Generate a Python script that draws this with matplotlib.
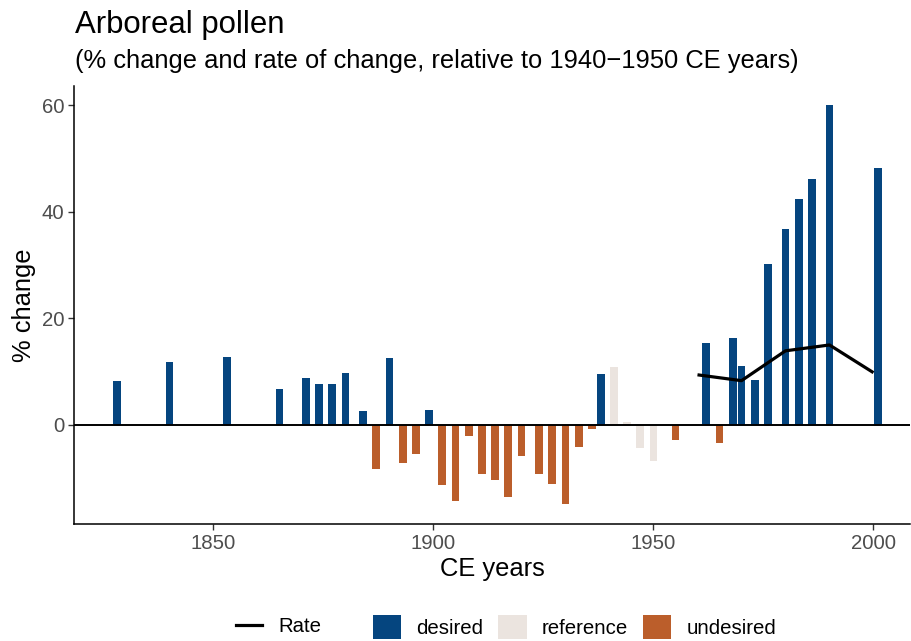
import matplotlib
matplotlib.use("Agg")
import matplotlib.pyplot as plt
from matplotlib.patches import Patch
from matplotlib.lines import Line2D

plt.rcParams['font.family'] = ['Liberation Sans', 'DejaVu Sans']

years = [1828, 1840, 1853, 1865, 1871, 1874, 1877, 1880, 1884, 1887, 1890, 1893,
         1896, 1899, 1902, 1905, 1908, 1911, 1914, 1917, 1920, 1924, 1927, 1930,
         1933, 1936, 1938, 1941, 1944, 1947, 1950, 1955, 1962, 1965, 1968, 1970,
         1973, 1976, 1980, 1983, 1986, 1990, 2001]
pct_change = [8.3, 11.75, 12.8, 6.75, 8.8, 7.7, 7.65, 9.7, 2.6, -8.25, 12.55, -7.2,
              -5.45, 2.8, -11.25, -14.2, -2.0, -9.3, -10.3, -13.5, -5.75, -9.25, -11.0, -14.9,
              -4.2, -0.8, 9.5, 10.9, 0.5, -4.4, -6.75, -2.8, 15.3, -3.4, 16.4, 11.1,
              8.5, 30.2, 36.75, 42.4, 46.1, 60.1, 48.3]
status = ['desired'] * 9 + ['undesired', 'desired', 'undesired', 'undesired', 'desired'] \
    + ['undesired'] * 12 + ['desired'] + ['reference'] * 4 + ['undesired', 'desired', 'undesired'] \
    + ['desired'] * 8

rate_years = [1960, 1970, 1980, 1990, 2000]
rate_values = [9.4, 8.3, 13.9, 15.0, 9.8]

colors = {'desired': '#05457f', 'reference': '#ebe4df', 'undesired': '#bb5e2b'}
categories = ['desired', 'reference', 'undesired']

W, H = 912, 641
fig = plt.figure(figsize=(W / 100, H / 100), dpi=100)
ax = fig.add_axes([74/W, (H-524)/H, (910-74)/W, (524-86)/H])

ax.bar(years, pct_change, width=1.8, color=[colors[s] for s in status], zorder=2)
ax.axhline(0, color='black', lw=1.4, zorder=3)
ax.plot(rate_years, rate_values, color='black', lw=2.3, zorder=4, solid_capstyle='butt')

ax.set_xlim(1818.3, 2008.3)
ax.set_ylim(-18.6, 63.6)
ax.set_xticks([1850, 1900, 1950, 2000])
ax.set_yticks([0, 20, 40, 60])
for s in ['top', 'right']:
    ax.spines[s].set_visible(False)
for s in ['left', 'bottom']:
    ax.spines[s].set_linewidth(1.1)
ax.tick_params(axis='both', labelsize=14.7, colors='#333333', labelcolor='#4d4d4d',
               length=4, width=1, pad=3)
ax.set_xlabel('CE years', fontsize=18.4)
ax.set_ylabel('% change', fontsize=18.4)
ax.xaxis.set_label_coords(0.5, (524 - 557) / (524 - 86))
ax.yaxis.set_label_coords((36 - 74) / (910 - 74), 0.5)

fig.text(75/W, 1 - 33/H, 'Arboreal pollen', fontsize=22.4, ha='left', va='baseline')
fig.text(75/W, 1 - 68/H,
         '(% change and rate of change, relative to 1940\u22121950 CE years)',
         fontsize=18.4, ha='left', va='baseline')

fig.legend(handles=[Line2D([0], [0], color='black', lw=2.3)], labels=['Rate'],
           loc='center', bbox_to_anchor=(278.5/W, 1 - 627/H), frameon=False,
           fontsize=14.7, handlelength=1.28, handletextpad=0.8,
           borderpad=0, borderaxespad=0)
fig.legend(handles=[Patch(facecolor=colors[c]) for c in categories], labels=categories,
           loc='center', bbox_to_anchor=(574.5/W, 1 - 627/H), frameon=False,
           fontsize=14.7, ncol=3, handlelength=1.4, handleheight=1.4,
           handletextpad=0.73, columnspacing=0.73, borderpad=0, borderaxespad=0)

fig.savefig('out.png', dpi=100)
